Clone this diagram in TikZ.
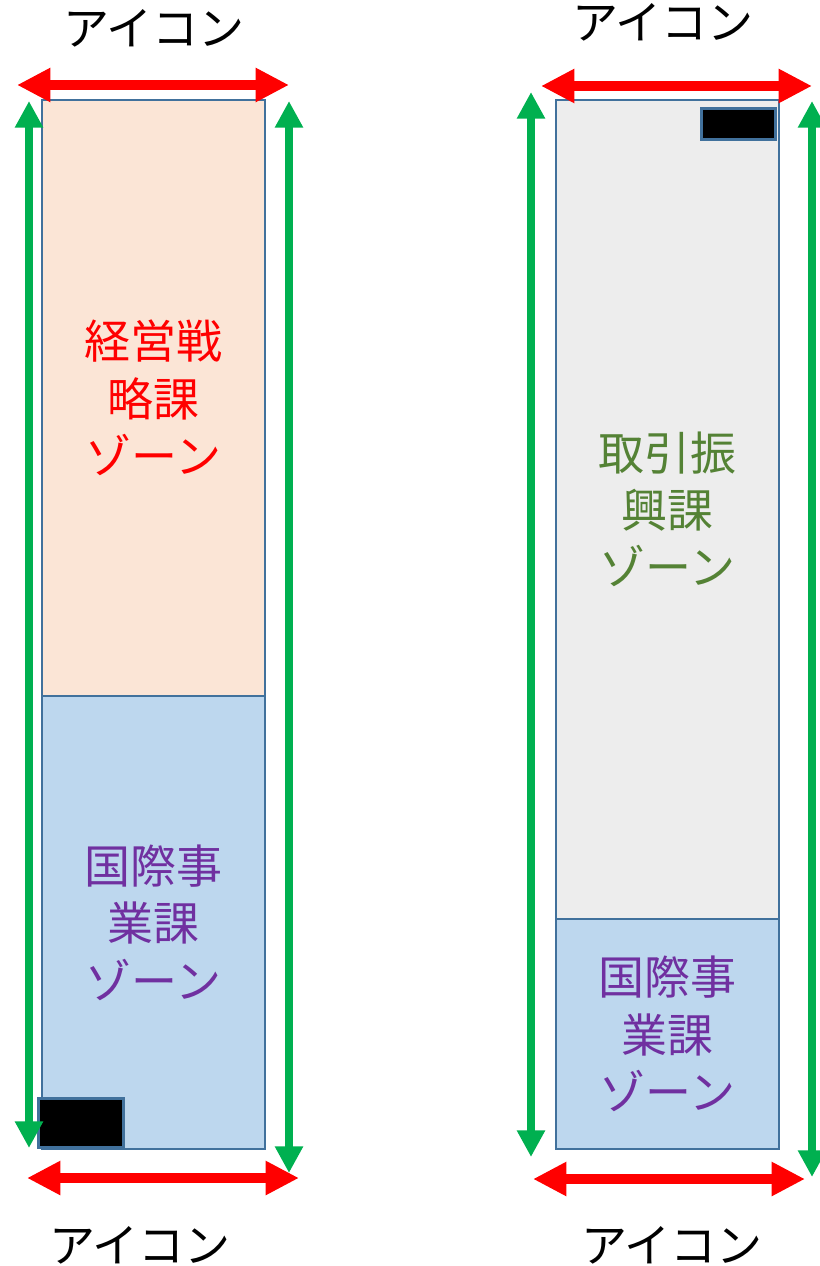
\documentclass[tikz,border=0pt]{standalone}
\usepackage{fontspec}
\setmainfont{Noto Sans CJK JP}
\usetikzlibrary{arrows.meta}
\definecolor{pinkfill}{HTML}{FBE5D6}
\definecolor{bluefill}{HTML}{BDD7EE}
\definecolor{grayfill}{HTML}{EDEDED}
\definecolor{zoneline}{HTML}{41719C}
\definecolor{arrowred}{HTML}{FF0000}
\definecolor{arrowgreen}{HTML}{00B050}
\definecolor{textpurple}{HTML}{7030A0}
\definecolor{textgreen}{HTML}{548235}

\begin{document}
\begin{tikzpicture}[x=0.75pt, y=-0.75pt,
    zone/.style ={rectangle, draw=zoneline, line width=1.6pt, inner sep=0pt,
      outer sep=0pt, align=center, minimum width=167.5pt,
      font=\fontsize{34.5}{43}\selectfont},
    icon/.style ={rectangle, draw=zoneline, fill=black, line width=2.2pt},
    icontext/.style ={font=\fontsize{34.5}{43}\selectfont},
    redarrow/.style ={draw=arrowred, line width=7.5pt,
      {Triangle[width=24pt, length=25pt]}-{Triangle[width=24pt, length=25pt]}},
    greenarrow/.style ={draw=arrowgreen, line width=6pt,
      {Triangle[width=20pt, length=20pt]}-{Triangle[width=20pt, length=20pt]}}]
   \useasboundingbox (0,0) rectangle (820,1266);

   % left column
   \node[zone, fill=pinkfill, text=arrowred, minimum height=447pt, anchor=north west]
     (A) at (42,100) {経営戦\\略課\\ゾーン};
   \node[zone, fill=bluefill, text=textpurple, minimum height=339.75pt, anchor=north]
     (B) at (A.south) {国際事\\業課\\ゾーン};
   \node[icon, minimum width=63.75pt, minimum height=36.75pt, anchor=south west]
     (C) at (37,1149) {};
   \node[icontext] (D) at (154,28) {アイコン};
   \node[icontext] (E) at (140,1245) {アイコン};

   % right column
   \node[zone, fill=grayfill, text=textgreen, minimum height=614.25pt, anchor=north west]
     (F) at (556,100) {取引振\\興課\\ゾーン};
   \node[zone, fill=bluefill, text=textpurple, minimum height=172.5pt, anchor=north]
     (G) at (F.south) {国際事\\業課\\ゾーン};
   \node[icon, minimum width=55.5pt, minimum height=23.25pt, anchor=north east]
     (H) at (777,107) {};
   \node[icontext] (I) at (663,22) {アイコン};
   \node[icontext] (J) at (672,1245) {アイコン};

   \coordinate (a1) at (17,85);   \coordinate (a2) at (289,85);
   \coordinate (b1) at (29,101);  \coordinate (b2) at (29,1148);
   \coordinate (c1) at (289,101); \coordinate (c2) at (289,1173);
   \coordinate (d1) at (27,1178); \coordinate (d2) at (299,1178);
   \coordinate (e1) at (541,86);  \coordinate (e2) at (812,86);
   \coordinate (f1) at (531,92);  \coordinate (f2) at (531,1157);
   \coordinate (g1) at (812,101); \coordinate (g2) at (812,1177);
   \coordinate (h1) at (533,1179); \coordinate (h2) at (805,1179);

   \draw[greenarrow] (b1) to (b2);
   \draw[greenarrow] (c1) to (c2);
   \draw[greenarrow] (f1) to (f2);
   \draw[greenarrow] (g1) to (g2);
   \draw[redarrow] (a1) to (a2);
   \draw[redarrow] (d1) to (d2);
   \draw[redarrow] (e1) to (e2);
   \draw[redarrow] (h1) to (h2);

 \end{tikzpicture}
\end{document}
